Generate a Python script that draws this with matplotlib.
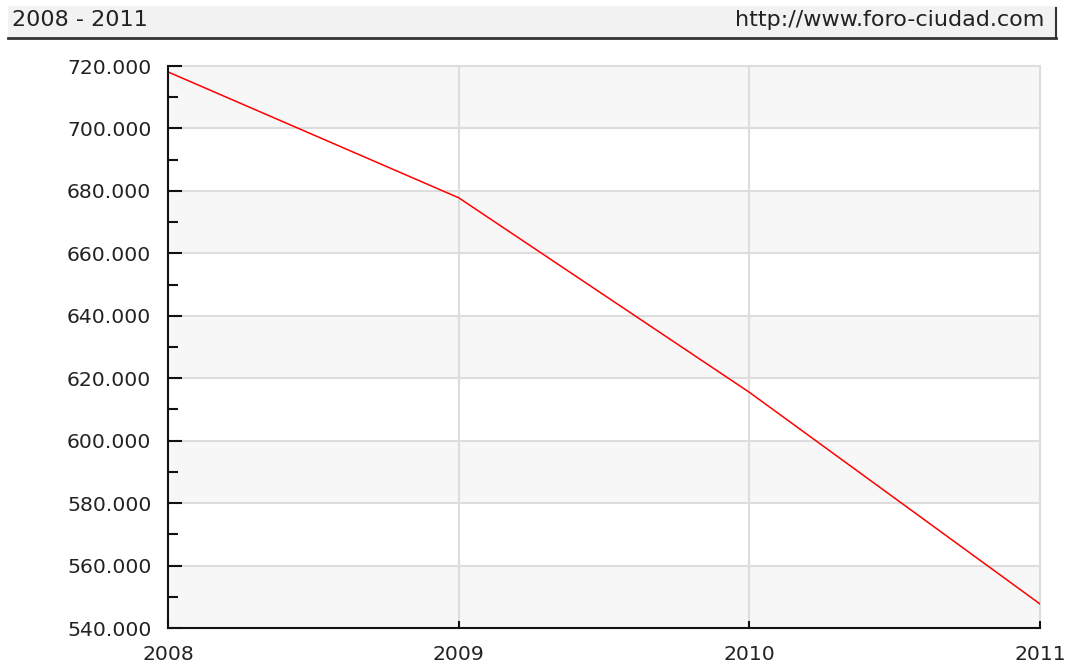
import matplotlib
matplotlib.use("Agg")
import matplotlib.pyplot as plt
from matplotlib.patches import Rectangle
from matplotlib.lines import Line2D
from matplotlib.ticker import MultipleLocator, FuncFormatter

years = [2008, 2009, 2010, 2011]
values = [718.1, 677.8, 615.5, 547.7]
y_ticks = [540, 560, 580, 600, 620, 640, 660, 680, 700, 720]
header_left = "2008 - 2011"
header_right = "http://www.foro-ciudad.com"

fig = plt.figure(figsize=(10.66, 6.63), dpi=100)
fig.patch.set_facecolor("white")

W, H = 1066, 663

# header bar
hx0, hx1, hy0, hy1 = 8, 1056, 6, 38
fig.patches.append(Rectangle((hx0 / W, 1 - hy1 / H), (hx1 - hx0) / W, (hy1 - hy0) / H,
                             transform=fig.transFigure, facecolor="#f2f2f2",
                             edgecolor="none", zorder=0))
fig.lines.append(Line2D([hx0 / W, hx1 / W], [1 - hy1 / H, 1 - hy1 / H],
                        transform=fig.transFigure, color="#333333", lw=2))
fig.lines.append(Line2D([hx1 / W, hx1 / W], [1 - hy1 / H, 1 - 8 / H],
                        transform=fig.transFigure, color="#333333", lw=1.5))
fig.text(12 / W, 1 - 20 / H, header_left, ha="left", va="center",
         fontsize=16, color="#222222", family="DejaVu Sans")
fig.text(1044 / W, 1 - 20 / H, header_right, ha="right", va="center",
         fontsize=16, color="#222222", family="DejaVu Sans")

left, right, top, bottom = 168, 1040, 66, 628
ax = fig.add_axes([left / W, 1 - bottom / H, (right - left) / W, (bottom - top) / H])

ymin, ymax = y_ticks[0], y_ticks[-1]
ax.set_xlim(years[0], years[-1])
ax.set_ylim(ymin, ymax)

# alternating bands
for i in range(len(y_ticks) - 1):
    if i % 2 == 0:
        ax.axhspan(y_ticks[i], y_ticks[i + 1], color="#f7f7f7", zorder=0, lw=0)

for y in y_ticks[1:]:
    ax.axhline(y, color="#dddddd", lw=1.5, zorder=1, clip_on=False)
for x in years[1:]:
    ax.axvline(x, color="#dddddd", lw=1.5, zorder=1, clip_on=False)

ax.plot(years, values, color="#ff0000", lw=1.1, zorder=3)

for s in ["top", "right"]:
    ax.spines[s].set_visible(False)
for s in ["left", "bottom"]:
    ax.spines[s].set_color("#111111")
    ax.spines[s].set_linewidth(1.5)
    ax.spines[s].set_zorder(4)

ax.set_yticks(y_ticks)
ax.yaxis.set_minor_locator(MultipleLocator(10))
ax.yaxis.set_major_formatter(FuncFormatter(lambda v, p: f"{int(v)}.000"))
ax.set_xticks(years)
ax.set_xticklabels([str(y) for y in years])

ax.tick_params(axis="y", which="major", direction="in", length=10, width=1.5,
               color="#111111", labelsize=14.7, pad=12, labelcolor="#222222")
ax.tick_params(axis="y", which="minor", direction="in", length=7, width=1.5,
               color="#111111")
ax.tick_params(axis="x", which="major", direction="in", length=5, width=1.5,
               color="#111111", labelsize=14.7, pad=12, labelcolor="#222222")
for t in ax.get_yticklabels() + ax.get_xticklabels():
    t.set_family("DejaVu Sans")

fig.savefig("out.png", dpi=100)
